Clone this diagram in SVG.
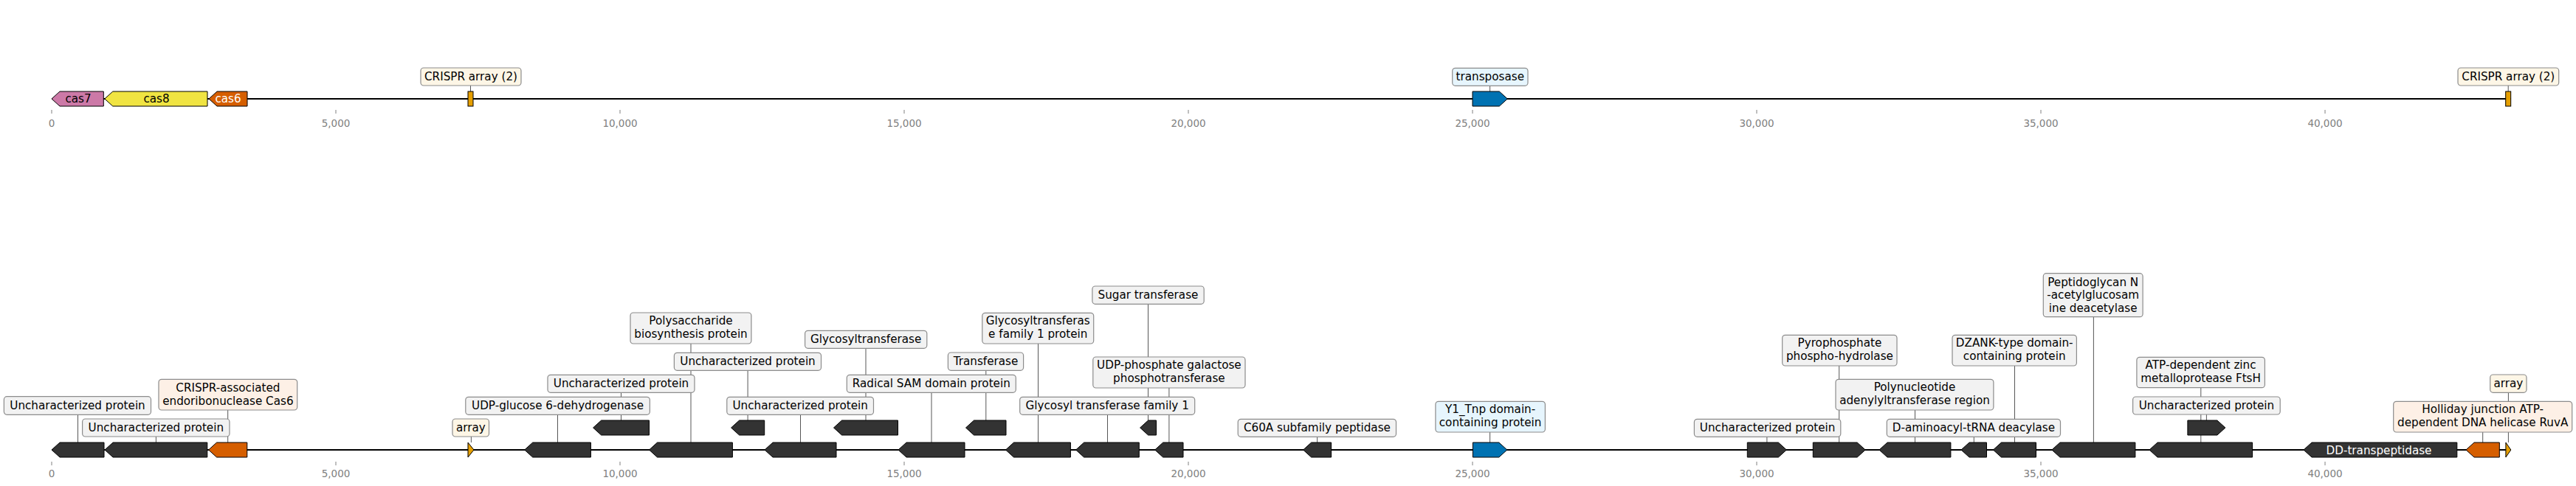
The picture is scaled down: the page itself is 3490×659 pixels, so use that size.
<svg xmlns="http://www.w3.org/2000/svg" width="3490" height="659" viewBox="0 0 3490 659">
<style>
text{font-family:"DejaVu Sans","Liberation Sans",sans-serif;font-size:15.2px;text-anchor:middle;fill:#000}
.tl{font-size:13.5px;fill:#808080}
.tk{stroke:#808080;stroke-width:1}
.bb{stroke:#000;stroke-width:2;fill:none}
.cn{stroke:#444;stroke-width:0.9}
.gn{stroke:#000;stroke-width:1}
.dk{fill:#333}
.or{fill:#d55e00}
.ye{fill:#e69f00}
.bl{fill:#0072b2}
.pk{fill:#cc79a7}
.yl{fill:#f0e442}
.bx{stroke:#8c8c8c;stroke-width:1.2}
.bg{fill:#f2f2f2}
.bo{fill:#fdf0e6}
.bc{fill:#fdf6e6}
.bb2{fill:#e6f5fd}
.w{fill:#fff}
</style>
<rect width="3490" height="659" fill="#fff"/>
<g id="axes">
<line class="bb" x1="70" y1="134" x2="3402" y2="134"/>
<line class="bb" x1="70" y1="610" x2="3402" y2="610"/>
<g class="tk">
<line x1="70" y1="149" x2="70" y2="154"/><line x1="455" y1="149" x2="455" y2="154"/><line x1="840" y1="149" x2="840" y2="154"/><line x1="1225" y1="149" x2="1225" y2="154"/><line x1="1610" y1="149" x2="1610" y2="154"/><line x1="1995" y1="149" x2="1995" y2="154"/><line x1="2380" y1="149" x2="2380" y2="154"/><line x1="2765" y1="149" x2="2765" y2="154"/><line x1="3150" y1="149" x2="3150" y2="154"/>
<line x1="70" y1="626" x2="70" y2="631"/><line x1="455" y1="626" x2="455" y2="631"/><line x1="840" y1="626" x2="840" y2="631"/><line x1="1225" y1="626" x2="1225" y2="631"/><line x1="1610" y1="626" x2="1610" y2="631"/><line x1="1995" y1="626" x2="1995" y2="631"/><line x1="2380" y1="626" x2="2380" y2="631"/><line x1="2765" y1="626" x2="2765" y2="631"/><line x1="3150" y1="626" x2="3150" y2="631"/>
</g>
<text class="tl" x="70" y="171.7">0</text><text class="tl" x="455" y="171.7">5,000</text><text class="tl" x="840" y="171.7">10,000</text><text class="tl" x="1225" y="171.7">15,000</text><text class="tl" x="1610" y="171.7">20,000</text><text class="tl" x="1995" y="171.7">25,000</text><text class="tl" x="2380" y="171.7">30,000</text><text class="tl" x="2765" y="171.7">35,000</text><text class="tl" x="3150" y="171.7">40,000</text>
<text class="tl" x="70" y="647.3">0</text><text class="tl" x="455" y="647.3">5,000</text><text class="tl" x="840" y="647.3">10,000</text><text class="tl" x="1225" y="647.3">15,000</text><text class="tl" x="1610" y="647.3">20,000</text><text class="tl" x="1995" y="647.3">25,000</text><text class="tl" x="2380" y="647.3">30,000</text><text class="tl" x="2765" y="647.3">35,000</text><text class="tl" x="3150" y="647.3">40,000</text>
</g>
<g id="connectors" class="cn">
<line x1="637.5" y1="116" x2="637.5" y2="124"/>
<line x1="2018.6" y1="116" x2="2018.6" y2="124"/>
<line x1="3398.2" y1="116" x2="3398.2" y2="124"/>
<line x1="105.5" y1="562.3" x2="105.5" y2="600"/>
<line x1="211.4" y1="592" x2="211.4" y2="600"/>
<line x1="308.7" y1="556" x2="308.7" y2="600"/>
<line x1="638.4" y1="592" x2="638.4" y2="600"/>
<line x1="755.5" y1="562.3" x2="755.5" y2="600"/>
<line x1="841.5" y1="532.3" x2="841.5" y2="570"/>
<line x1="936" y1="466" x2="936" y2="600"/>
<line x1="1013.1" y1="502.3" x2="1013.1" y2="570"/>
<line x1="1084.5" y1="562.3" x2="1084.5" y2="600"/>
<line x1="1173" y1="472.3" x2="1173" y2="570"/>
<line x1="1262" y1="532.3" x2="1262" y2="600"/>
<line x1="1335.8" y1="502.3" x2="1335.8" y2="570"/>
<line x1="1406.5" y1="466" x2="1406.5" y2="600"/>
<line x1="1500.5" y1="562.3" x2="1500.5" y2="600"/>
<line x1="1555.5" y1="412.3" x2="1555.5" y2="570"/>
<line x1="1583.9" y1="526" x2="1583.9" y2="600"/>
<line x1="1784.6" y1="592.3" x2="1784.6" y2="600"/>
<line x1="2018.6" y1="586" x2="2018.6" y2="600"/>
<line x1="2393.9" y1="592.3" x2="2393.9" y2="600"/>
<line x1="2491.7" y1="496" x2="2491.7" y2="600"/>
<line x1="2594.5" y1="556" x2="2594.5" y2="600"/>
<line x1="2674.3" y1="592.3" x2="2674.3" y2="600"/>
<line x1="2729.5" y1="496" x2="2729.5" y2="600"/>
<line x1="2836.4" y1="429.7" x2="2836.4" y2="600"/>
<line x1="2981.8" y1="525.7" x2="2981.8" y2="600"/>
<line x1="2989.4" y1="562" x2="2989.4" y2="570"/>
<line x1="3363.7" y1="586" x2="3363.7" y2="600"/>
<line x1="3398.4" y1="532.3" x2="3398.4" y2="600"/>
</g>
<!-- top track -->
<g id="t-cas7"><polygon class="gn pk" points="70,134 81,124 140.3,124 140.3,144 81,144"/><text x="106" y="139">cas7</text></g>
<g id="t-cas8"><polygon class="gn yl" points="141.8,134 152.8,124 281,124 281,144 152.8,144"/><text x="212" y="139">cas8</text></g>
<g id="t-cas6"><polygon class="gn or" points="283,134 294,124 335,124 335,144 294,144"/><text class="w" x="309" y="139">cas6</text></g>
<g id="t-crispr1"><rect class="gn ye" x="634" y="124" width="7" height="20"/><rect class="bx bc" x="570" y="92" width="136" height="24" rx="4"/><text x="638" y="109">CRISPR array (2)</text></g>
<g id="t-transposase"><polygon class="gn bl" points="1995,124 2031.3,124 2042.3,134 2031.3,144 1995,144"/><rect class="bx bb2" x="1967.7" y="92.3" width="102.3" height="24" rx="4"/><text x="2018.8" y="109.3">transposase</text></g>
<g id="t-crispr2"><rect class="gn ye" x="3394.7" y="124" width="7" height="20"/><rect class="bx bc" x="3330" y="92" width="136.7" height="24" rx="4"/><text x="3398.3" y="109">CRISPR array (2)</text></g>
<!-- bottom track -->
<g id="b-A"><polygon class="gn dk" points="70,610 81,600 141,600 141,620 81,620"/><rect class="bx bg" x="5.4" y="537.7" width="199.1" height="24.6" rx="4"/><text x="105" y="555">Uncharacterized protein</text></g>
<g id="b-B"><polygon class="gn dk" points="142,610 153,600 280.8,600 280.8,620 153,620"/><rect class="bx bg" x="111.6" y="568" width="199.4" height="24" rx="4"/><text x="211.3" y="585">Uncharacterized protein</text></g>
<g id="b-C"><polygon class="gn or" points="282.6,610 293.6,600 334.8,600 334.8,620 293.6,620"/><rect class="bx bo" x="215" y="514.3" width="187.7" height="41.7" rx="4"/><text x="308.9" y="531">CRISPR-associated</text><text x="308.9" y="548.7">endoribonuclease Cas6</text></g>
<g id="b-array1"><polygon class="gn ye" points="634,600 642,610 634,620"/><rect class="bx bc" x="613" y="568" width="49.5" height="24" rx="4"/><text x="637.8" y="585">array</text></g>
<g id="b-D"><polygon class="gn dk" points="710.7,610 721.7,600 800.4,600 800.4,620 721.7,620"/><rect class="bx bg" x="630.8" y="538.3" width="249.6" height="24" rx="4"/><text x="755.6" y="555.3">UDP-glucose 6-dehydrogenase</text></g>
<g id="b-E"><polygon class="gn dk" points="803.6,580 814.6,570 879.5,570 879.5,590 814.6,590"/><rect class="bx bg" x="742" y="508.3" width="199" height="24" rx="4"/><text x="841.5" y="525.3">Uncharacterized protein</text></g>
<g id="b-F"><polygon class="gn dk" points="879.5,610 890.5,600 992.4,600 992.4,620 890.5,620"/><rect class="bx bg" x="854" y="424" width="163.9" height="42" rx="4"/><text x="936" y="440">Polysaccharide</text><text x="936" y="457.7">biosynthesis protein</text></g>
<g id="b-G"><polygon class="gn dk" points="990.6,580 1001.6,570 1035.7,570 1035.7,590 1001.6,590"/><rect class="bx bg" x="913.4" y="478.3" width="199.1" height="24" rx="4"/><text x="1013" y="495.3">Uncharacterized protein</text></g>
<g id="b-H"><polygon class="gn dk" points="1036,610 1047,600 1133,600 1133,620 1047,620"/><rect class="bx bg" x="984.8" y="538.3" width="198.7" height="24" rx="4"/><text x="1084.2" y="555.3">Uncharacterized protein</text></g>
<g id="b-I"><polygon class="gn dk" points="1129.5,580 1140.5,570 1216.5,570 1216.5,590 1140.5,590"/><rect class="bx bg" x="1090.6" y="448.3" width="165.2" height="24" rx="4"/><text x="1173.2" y="465.3">Glycosyltransferase</text></g>
<g id="b-J"><polygon class="gn dk" points="1217,610 1228,600 1307,600 1307,620 1228,620"/><rect class="bx bg" x="1147.3" y="508.3" width="229" height="24" rx="4"/><text x="1261.8" y="525.3">Radical SAM domain protein</text></g>
<g id="b-K"><polygon class="gn dk" points="1308.5,580 1319.5,570 1363,570 1363,590 1319.5,590"/><rect class="bx bg" x="1284.4" y="478" width="102.2" height="24.3" rx="4"/><text x="1335.5" y="495.2">Transferase</text></g>
<g id="b-L"><polygon class="gn dk" points="1362.5,610 1373.5,600 1450.4,600 1450.4,620 1373.5,620"/><rect class="bx bg" x="1330.8" y="424.3" width="150.9" height="41.7" rx="4"/><text x="1406.3" y="440.3">Glycosyltransferas</text><text x="1406.3" y="458">e family 1 protein</text></g>
<g id="b-M"><polygon class="gn dk" points="1457.6,610 1468.6,600 1543.3,600 1543.3,620 1468.6,620"/><rect class="bx bg" x="1381.7" y="538.3" width="237" height="24" rx="4"/><text x="1500.2" y="555.3">Glycosyl transferase family 1</text></g>
<g id="b-N"><polygon class="gn dk" points="1544.6,580 1555.6,570 1566.5,570 1566.5,590 1555.6,590"/><rect class="bx bg" x="1479.9" y="388" width="151.3" height="24.3" rx="4"/><text x="1555.5" y="405.2">Sugar transferase</text></g>
<g id="b-O"><polygon class="gn dk" points="1564.7,610 1575.7,600 1603,600 1603,620 1575.7,620"/><rect class="bx bg" x="1480.8" y="484" width="206.2" height="42" rx="4"/><text x="1583.9" y="500.2">UDP-phosphate galactose</text><text x="1583.9" y="517.9">phosphotransferase</text></g>
<g id="b-P"><polygon class="gn dk" points="1765.6,610 1776.6,600 1803.6,600 1803.6,620 1776.6,620"/><rect class="bx bg" x="1677.2" y="568.3" width="214.3" height="24" rx="4"/><text x="1784.4" y="585.3">C60A subfamily peptidase</text></g>
<g id="b-Q"><polygon class="gn bl" points="1995.4,600 2030.8,600 2041.8,610 2030.8,620 1995.4,620"/><rect class="bx bb2" x="1944.9" y="544.3" width="148.5" height="41.7" rx="4"/><text x="2019.1" y="560.3">Y1_Tnp domain-</text><text x="2019.1" y="578">containing protein</text></g>
<g id="b-R"><polygon class="gn dk" points="2367.3,600 2409.4,600 2420.4,610 2409.4,620 2367.3,620"/><rect class="bx bg" x="2295.4" y="568.3" width="198.4" height="24" rx="4"/><text x="2394.6" y="585.3">Uncharacterized protein</text></g>
<g id="b-S"><polygon class="gn dk" points="2456.3,600 2516.2,600 2527.2,610 2516.2,620 2456.3,620"/><rect class="bx bg" x="2414.7" y="454.3" width="155.3" height="41.7" rx="4"/><text x="2492.4" y="470.3">Pyrophosphate</text><text x="2492.4" y="488">phospho-hydrolase</text></g>
<g id="b-T"><polygon class="gn dk" points="2546,610 2557,600 2642.9,600 2642.9,620 2557,620"/><rect class="bx bg" x="2487" y="514.3" width="213.9" height="41.7" rx="4"/><text x="2594" y="530.3">Polynucleotide</text><text x="2594" y="548">adenylyltransferase region</text></g>
<g id="b-U"><polygon class="gn dk" points="2657,610 2668,600 2691.5,600 2691.5,620 2668,620"/><rect class="bx bg" x="2556.3" y="568.3" width="235.2" height="24" rx="4"/><text x="2673.9" y="585.3">D-aminoacyl-tRNA deacylase</text></g>
<g id="b-V"><polygon class="gn dk" points="2700.4,610 2711.4,600 2758.5,600 2758.5,620 2711.4,620"/><rect class="bx bg" x="2645" y="454.3" width="168.4" height="41.7" rx="4"/><text x="2729.2" y="470.3">DZANK-type domain-</text><text x="2729.2" y="488">containing protein</text></g>
<g id="b-W"><polygon class="gn dk" points="2779.9,610 2790.9,600 2892.9,600 2892.9,620 2790.9,620"/><rect class="bx bg" x="2768.3" y="370.7" width="134.8" height="59" rx="4"/><text x="2835.7" y="387.5">Peptidoglycan N</text><text x="2835.7" y="405.2">-acetylglucosam</text><text x="2835.7" y="422.9">ine deacetylase</text></g>
<g id="b-X"><polygon class="gn dk" points="2912,610 2923,600 3051.6,600 3051.6,620 2923,620"/><rect class="bx bg" x="2894.9" y="484.3" width="173.5" height="41.4" rx="4"/><text x="2981.6" y="500.2">ATP-dependent zinc</text><text x="2981.6" y="517.9">metalloprotease FtsH</text></g>
<g id="b-Y"><polygon class="gn dk" points="2963.9,570 3003.9,570 3014.9,580 3003.9,590 2963.9,590"/><rect class="bx bg" x="2889.6" y="538" width="199.6" height="24" rx="4"/><text x="2989.4" y="555">Uncharacterized protein</text></g>
<g id="b-Z"><polygon class="gn dk" points="3121,610 3132,600 3328.8,600 3328.8,620 3132,620"/><text class="w" x="3223" y="615.5">DD-transpeptidase</text></g>
<g id="b-AA"><polygon class="gn or" points="3341,610 3352,600 3386.3,600 3386.3,620 3352,620"/><rect class="bx bo" x="3242.7" y="544.3" width="242" height="41.7" rx="4"/><text x="3363.7" y="560.3">Holliday junction ATP-</text><text x="3363.7" y="578">dependent DNA helicase RuvA</text></g>
<g id="b-array2"><polygon class="gn ye" points="3394.9,600 3401.8,610 3394.9,620"/><rect class="bx bc" x="3373.7" y="508" width="49.3" height="24.3" rx="4"/><text x="3398.4" y="525.2">array</text></g>
</svg>
